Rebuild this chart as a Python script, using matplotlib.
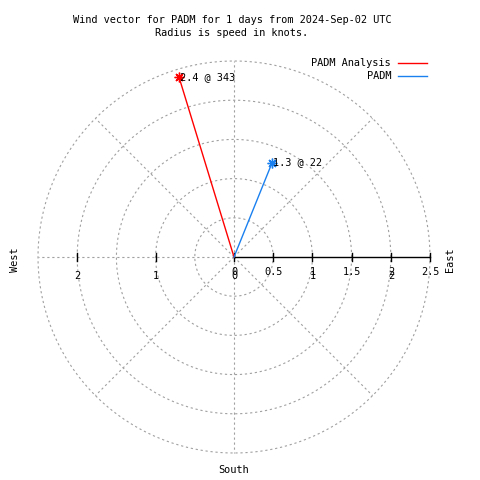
import numpy as np
import matplotlib
matplotlib.use('Agg')
import matplotlib.pyplot as plt

# wind vectors: speed in knots, compass direction in degrees
SERIES = ['PADM Analysis', 'PADM']
SPEEDS = [2.4, 1.3]
DIRECTIONS = [343, 22]
COLORS = ['#ff0000', '#1a80f0']

RINGS = [0.5, 1.0, 1.5, 2.0, 2.5]
RIGHT_TICKS = [0, 0.5, 1, 1.5, 2, 2.5]
RIGHT_LABELS = ['0', '0.5', '1', '1.5', '2', '2.5']
MIRROR_TICKS = [-2, -1, 0, 1, 2]
MIRROR_LABELS = ['2', '1', '0', '1', '2']

RMAX = 2.5
FONT = 'DejaVu Sans Mono'
FS = 7.4
GRID = '#a0a0a0'

# layout in pixels: centre (234, 257), 78.4 px per knot
PX = 78.4
CX, CY = 234, 257
W = H = 480

fig = plt.figure(figsize=(4.8, 4.8), dpi=100)
ax = fig.add_axes([0, 0, 1, 1])
ax.set_xlim(-CX / PX, (W - CX) / PX)
ax.set_ylim(-(H - CY) / PX, CY / PX)
ax.axis('off')

# rings
t = np.linspace(0, 2 * np.pi, 361)
for r in RINGS:
    ax.plot(r * np.cos(t), r * np.sin(t), color=GRID, lw=0.8, ls=(0, (2, 2.5)))

# spokes every 45 degrees (east one is the black axis)
for a in range(45, 360, 45):
    ang = np.radians(a)
    ax.plot([0, RMAX * np.cos(ang)], [0, RMAX * np.sin(ang)],
            color=GRID, lw=0.8, ls=(0, (2, 2.5)))

# axis line to the east with ticks
ax.plot([0, RMAX], [0, 0], color='black', lw=1.0)
tick = 4 / PX
for v in RIGHT_TICKS:
    ax.plot([v, v], [-tick, tick], color='black', lw=1.0)
for v in [-2, -1]:
    ax.plot([v, v], [-tick, tick], color='black', lw=1.0)

for v, lab in zip(RIGHT_TICKS, RIGHT_LABELS):
    ax.text(v, -15 / PX, lab, ha='center', va='center', family=FONT, fontsize=FS)
for v, lab in zip(MIRROR_TICKS, MIRROR_LABELS):
    ax.text(v, -19 / PX, lab, ha='center', va='center', family=FONT, fontsize=FS)

# vectors
for name, s, d, c in zip(SERIES, SPEEDS, DIRECTIONS, COLORS):
    x = s * np.sin(np.radians(d))
    y = s * np.cos(np.radians(d))
    ax.plot([0, x], [0, y], color=c, lw=1.0)
    ax.plot([x], [y], marker=(8, 2, 0), color=c, ms=7, mew=1.0)
    ax.text(x + 1 / PX, y, f'{s} @ {d}', ha='left', va='center',
            family=FONT, fontsize=FS)

# direction labels
ax.text(-219 / PX, -3 / PX, 'West', rotation=90, ha='center', va='center',
        family=FONT, fontsize=FS)
ax.text(216 / PX, -3 / PX, 'East', rotation=90, ha='center', va='center',
        family=FONT, fontsize=FS)
ax.text(0, -213 / PX, 'South', ha='center', va='center', family=FONT, fontsize=FS)

# title
fig.text(232 / W, 1 - 20 / H, 'Wind vector for PADM for 1 days from 2024-Sep-02 UTC',
         ha='center', va='center', family=FONT, fontsize=FS)
fig.text(232 / W, 1 - 33 / H, 'Radius is speed in knots.',
         ha='center', va='center', family=FONT, fontsize=FS)

# legend
for i, (name, c) in enumerate(zip(SERIES, COLORS)):
    yy = 1 - (63 + 13 * i) / H
    fig.text(391 / W, yy, name, ha='right', va='center', family=FONT, fontsize=FS)
    fig.lines.append(plt.Line2D([398 / W, 427 / W], [yy, yy], color=c, lw=1.0,
                                transform=fig.transFigure))

fig.savefig('out.png', dpi=100)
